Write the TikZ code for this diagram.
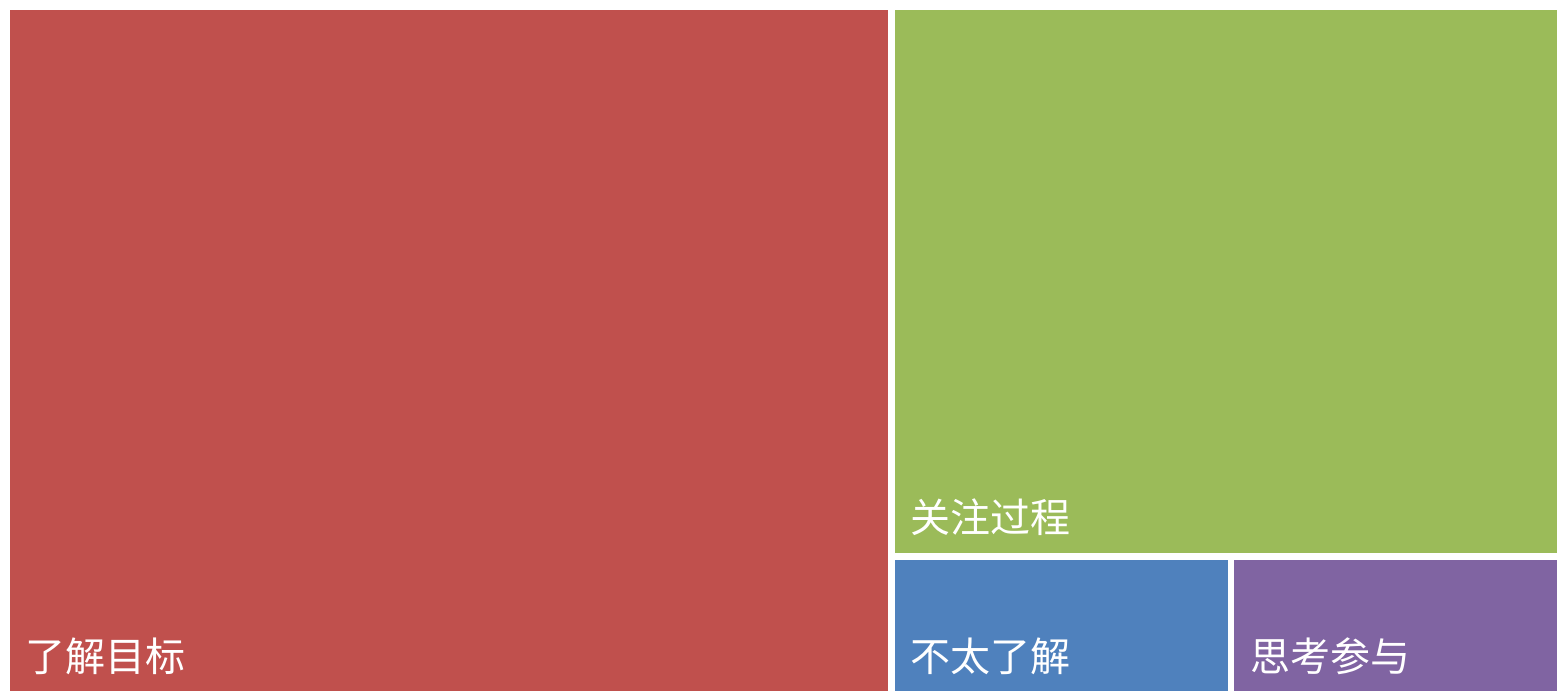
\documentclass[tikz,border=0pt]{standalone}
\usepackage{fontspec}
\newfontfamily\cjk{Noto Sans CJK SC}
\definecolor{tmred}{HTML}{C0504D}
\definecolor{tmgreen}{HTML}{9BBB59}
\definecolor{tmblue}{HTML}{4F81BD}
\definecolor{tmpurple}{HTML}{8064A2}
\tikzset{
  tmlabel/.style={anchor=west, inner sep=0pt, text=white, font=\cjk\fontsize{40}{40}\selectfont}
}

\begin{document}
\begin{tikzpicture}[x=1pt,y=1pt]

\useasboundingbox (0,0) rectangle (1557,691);
\path[fill=white] (0,0) rectangle (1557,691);

\path[fill=tmred] (10,0) rectangle (888,681);
\path[fill=tmgreen] (895,138) rectangle (1557,681);
\path[fill=tmblue] (895,0) rectangle (1228,131.5);
\path[fill=tmpurple] (1234,0) rectangle (1557,131.5);

\node[tmlabel] (goal) at (25,35) {了解目标};
\node[tmlabel] (process) at (910,174) {关注过程};
\node[tmlabel] (unclear) at (910,35) {不太了解};
\node[tmlabel] (think) at (1250,35) {思考参与};
\end{tikzpicture}
\end{document}
